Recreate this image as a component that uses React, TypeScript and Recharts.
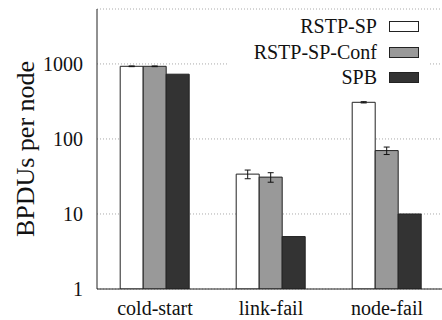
import React from "react";
import {
  BarChart,
  Bar,
  XAxis,
  YAxis,
  CartesianGrid,
  Legend,
  ErrorBar,
  Label,
} from "recharts";

const categories = ["cold-start", "link-fail", "node-fail"];
const rstpSp = [930, 34, 308];
const rstpSpErr = [10, 4.5, 6];
const rstpSpConf = [930, 31, 70];
const rstpSpConfErr = [10, 4.5, 8];
const spb = [730, 5, 10];
const yTicks = [1, 10, 100, 1000];

const data = categories.map((name, i) => ({
  name,
  rstpSp: rstpSp[i],
  rstpSpErr: rstpSpErr[i],
  rstpSpConf: rstpSpConf[i],
  rstpSpConfErr: rstpSpConfErr[i],
  spb: spb[i],
}));

const FONT = "Liberation Serif";
const INK = "#222";

function LegendBox({ payload }: any) {
  return (
    <div
      style={{
        background: "#fff",
        width: 202,
        fontFamily: FONT,
        fontSize: 20,
        color: "#111",
      }}
    >
      {(payload || []).map((p: any) => (
        <div
          key={p.value}
          style={{
            height: 25.5,
            display: "flex",
            alignItems: "center",
            justifyContent: "flex-end",
            paddingRight: 11,
          }}
        >
          <span>{p.value}</span>
          <span
            style={{
              display: "inline-block",
              width: 28,
              height: 9,
              marginLeft: 12,
              background: p.color,
              border: `1px solid ${INK}`,
            }}
          />
        </div>
      ))}
    </div>
  );
}

function YLabel({ viewBox }: any) {
  const x = 25;
  const y = viewBox.y + viewBox.height / 2;
  return (
    <text
      x={x}
      y={y}
      transform={`rotate(-90, ${x}, ${y})`}
      textAnchor="middle"
      dominantBaseline="central"
      fontFamily={FONT}
      fontSize={26}
      fill="#111"
    >
      BPDUs per node
    </text>
  );
}

export default function App() {
  return (
    <div
      style={{
        position: "absolute",
        left: 0,
        top: 0,
        width: 442,
        height: 320,
        overflow: "hidden",
        background: "#fff",
      }}
    >
      <BarChart
        width={450}
        height={320}
        data={data}
        margin={{ top: 9, right: 5, bottom: 0, left: 0 }}
        barGap={0}
        barCategoryGap="20%"
      >
        <CartesianGrid
          horizontal
          vertical={false}
          stroke="#aaa"
          strokeDasharray="1 2"
        />
        <XAxis
          dataKey="name"
          height={31}
          tickLine={false}
          tickSize={0}
          tickMargin={12}
          axisLine={{ stroke: INK }}
          tick={{ fontFamily: FONT, fontSize: 20, fill: "#111" }}
          interval={0}
        />
        <XAxis
          xAxisId="top"
          dataKey="name"
          orientation="top"
          height={0}
          mirror
          tickSize={4}
          tick={false}
          tickLine={{ stroke: INK }}
          axisLine={{ stroke: INK }}
          interval={0}
        />
        <YAxis
          scale="log"
          domain={[1, 5400]}
          allowDataOverflow
          ticks={yTicks}
          width={97}
          tickLine={false}
          tickSize={0}
          tickMargin={14}
          axisLine={{ stroke: INK }}
          tick={{ fontFamily: FONT, fontSize: 20, fill: "#111" }}
        >
          <Label content={<YLabel />} />
        </YAxis>
        <YAxis
          yAxisId="r"
          orientation="right"
          scale="log"
          domain={[1, 5400]}
          allowDataOverflow
          ticks={yTicks}
          width={0}
          mirror
          tickSize={5}
          tick={false}
          tickLine={{ stroke: INK }}
          axisLine={{ stroke: INK }}
        />
        <Legend
          layout="horizontal"
          verticalAlign="middle"
          align="center"
          content={<LegendBox />}
          wrapperStyle={{ top: 14, left: 228, width: 202 }}
        />
        <Bar
          dataKey="rstpSp"
          name="RSTP-SP"
          fill="#ffffff"
          stroke={INK}
          isAnimationActive={false}
        >
          <ErrorBar dataKey="rstpSpErr" width={3} stroke="#111" strokeWidth={1} />
        </Bar>
        <Bar
          dataKey="rstpSpConf"
          name="RSTP-SP-Conf"
          fill="#999999"
          stroke={INK}
          isAnimationActive={false}
        >
          <ErrorBar dataKey="rstpSpConfErr" width={3} stroke="#111" strokeWidth={1} />
        </Bar>
        <Bar
          dataKey="spb"
          name="SPB"
          fill="#333333"
          stroke={INK}
          isAnimationActive={false}
        />
      </BarChart>
    </div>
  );
}
